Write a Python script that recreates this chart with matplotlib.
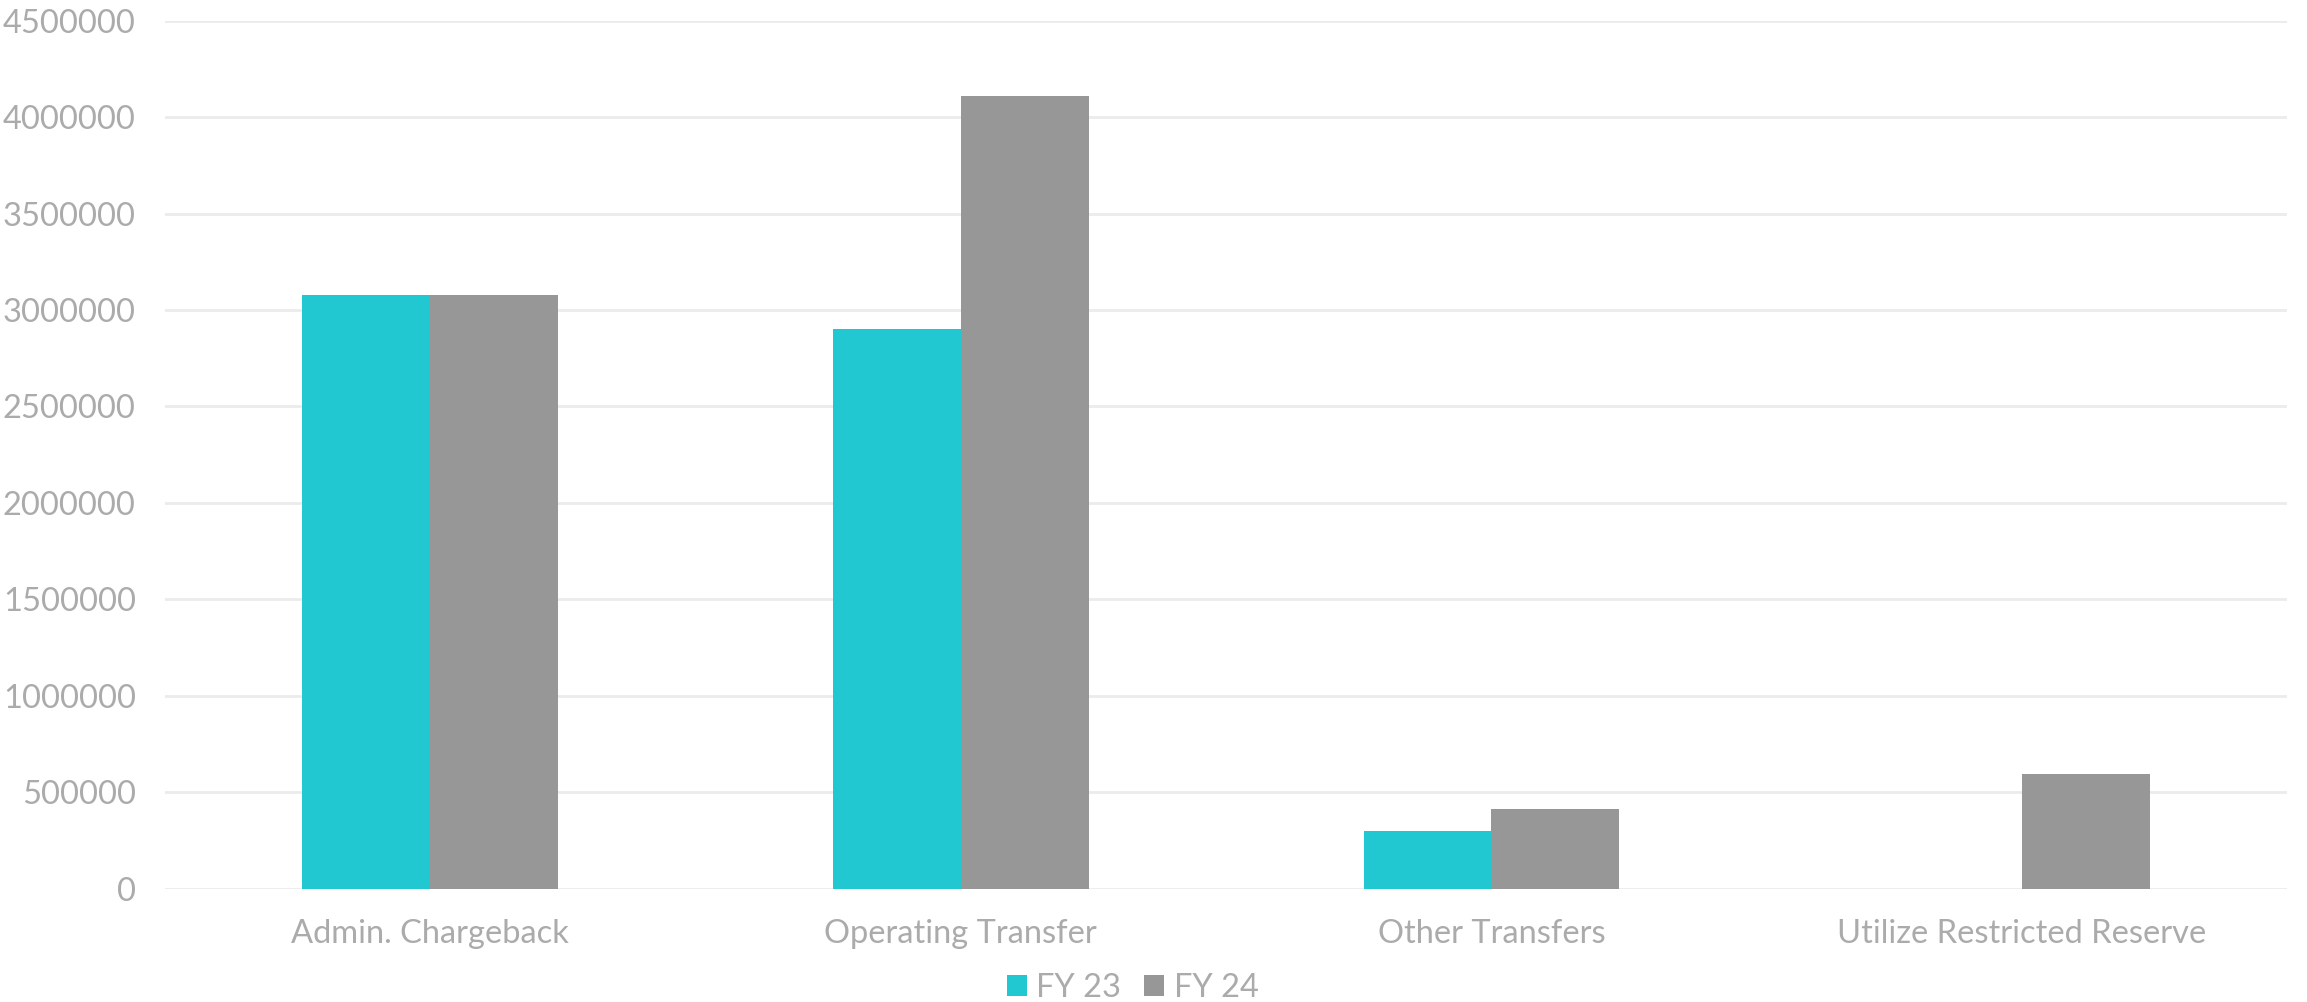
import numpy as np
import matplotlib
matplotlib.use("Agg")
import matplotlib.pyplot as plt

categories = ['Admin. Chargeback', 'Operating Transfer', 'Other Transfers', 'Utilize Restricted Reserve']
fy23 = [3080000, 2900000, 300000, 0]
fy24 = [3075000, 4110000, 410000, 595000]
series_names = ['FY 23', 'FY 24']

teal = '#21C8D2'
grey = '#979797'
text_color = '#ABABAB'

plt.rcParams['font.family'] = ['Lato', 'DejaVu Sans']

fig = plt.figure(figsize=(23.07, 10.02), dpi=100)
ax = fig.add_axes([0.0715, 0.1132, 0.920, 0.8662])

x = np.arange(len(categories))
w = 0.241
ax.bar(x - w / 2, fy23, width=w, color=teal, label=series_names[0], zorder=3)
ax.bar(x + w / 2, fy24, width=w, color=grey, label=series_names[1], zorder=3)

ax.set_xlim(-0.5, len(categories) - 0.5)
ax.set_ylim(0, 4500000)
ax.set_yticks(np.arange(0, 4500001, 500000))
ax.set_yticklabels([str(v) for v in range(0, 4500001, 500000)])
ax.set_xticks(x)
ax.set_xticklabels(categories)

ax.grid(axis='y', color='#EBEBEB', linewidth=2, zorder=0)
for s in ax.spines.values():
    s.set_visible(False)
ax.tick_params(axis='both', length=0, labelsize=23.5, colors=text_color)
ax.tick_params(axis='x', pad=22)
ax.tick_params(axis='y', pad=21)

handles, labels = ax.get_legend_handles_labels()
leg = fig.legend(handles, labels, loc='center', bbox_to_anchor=(0.491, 0.014), ncol=2,
                 frameon=False, fontsize=23.5, handlelength=0.6, handleheight=0.6,
                 handletextpad=0.3, columnspacing=0.7, borderpad=0)
for t in leg.get_texts():
    t.set_color(text_color)

fig.savefig('out.png', dpi=100)
